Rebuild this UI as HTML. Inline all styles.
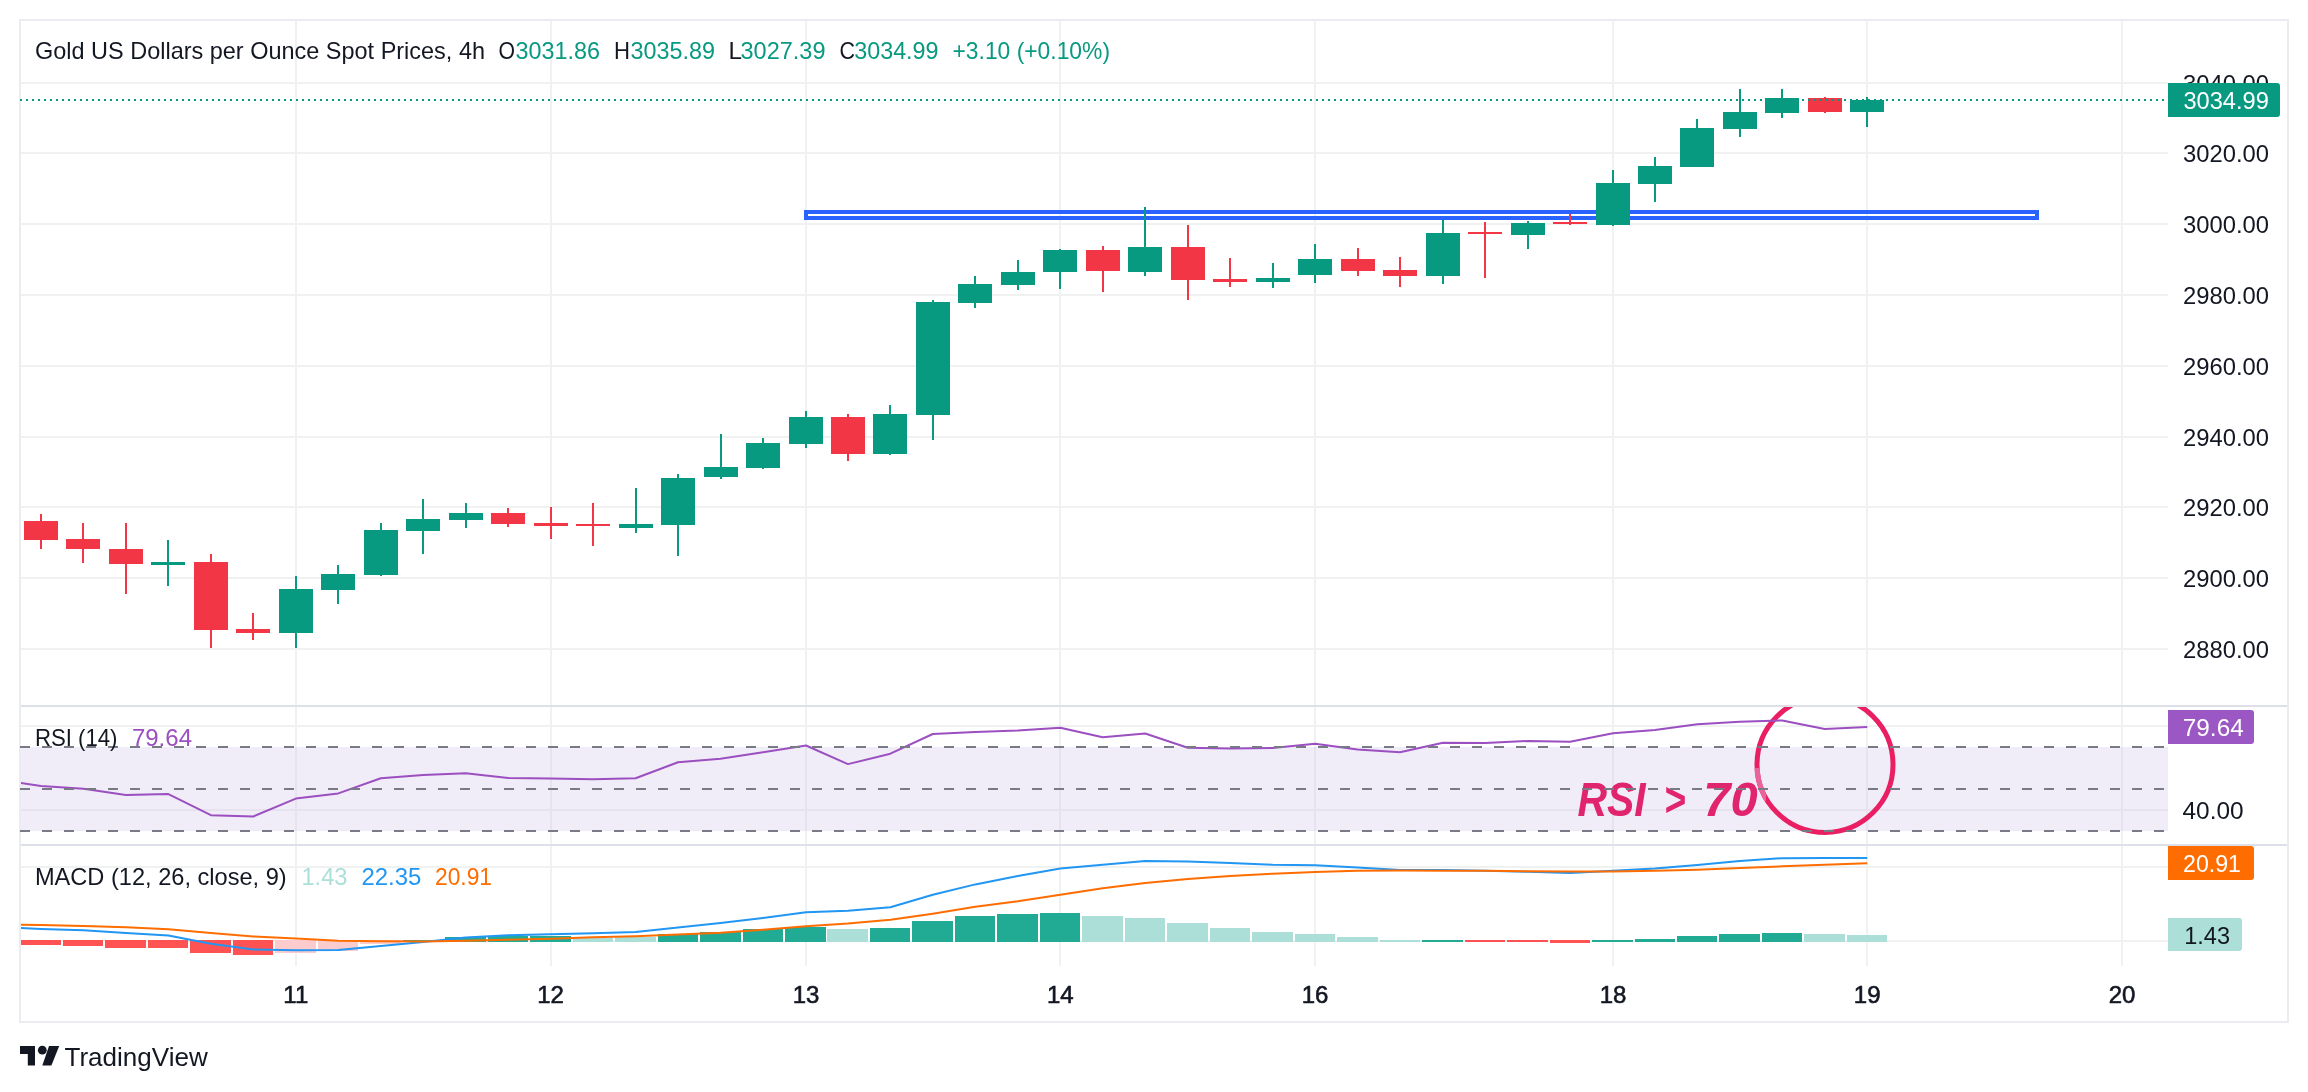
<!DOCTYPE html><html><head><meta charset="utf-8"><title>Gold 4h chart</title>
<style>html,body{margin:0;padding:0;background:#fff;width:2308px;height:1092px;overflow:hidden}svg{display:block;will-change:transform}</style></head><body>
<svg width="2308" height="1092" viewBox="0 0 2308 1092" font-family='"Liberation Sans", sans-serif'>
<rect x="0" y="0" width="2308" height="1092" fill="#ffffff"/>
<defs><clipPath id="cpMain"><rect x="21" y="21" width="2147" height="684"/></clipPath><clipPath id="cpRsi"><rect x="21" y="707" width="2147" height="137"/></clipPath><clipPath id="cpMacd"><rect x="21" y="846" width="2147" height="120"/></clipPath></defs>
<g fill="#f0f2f2" shape-rendering="crispEdges">
<rect x="21" y="82" width="2147" height="2"/>
<rect x="21" y="152" width="2147" height="2"/>
<rect x="21" y="223" width="2147" height="2"/>
<rect x="21" y="294" width="2147" height="2"/>
<rect x="21" y="365" width="2147" height="2"/>
<rect x="21" y="436" width="2147" height="2"/>
<rect x="21" y="506" width="2147" height="2"/>
<rect x="21" y="577" width="2147" height="2"/>
<rect x="21" y="648" width="2147" height="2"/>
<rect x="21" y="725" width="2147" height="2"/>
<rect x="21" y="809" width="2147" height="2"/>
<rect x="21" y="866" width="2147" height="2"/>
<rect x="21" y="940" width="2147" height="2"/>
<rect x="295" y="21" width="2" height="945"/>
<rect x="550" y="21" width="2" height="945"/>
<rect x="805" y="21" width="2" height="945"/>
<rect x="1059" y="21" width="2" height="945"/>
<rect x="1314" y="21" width="2" height="945"/>
<rect x="1612" y="21" width="2" height="945"/>
<rect x="1866" y="21" width="2" height="945"/>
<rect x="2121" y="21" width="2" height="945"/>
</g>
<rect x="21" y="747" width="2147" height="84" fill="#f0edf8"/>
<g fill="#e6e3ef" shape-rendering="crispEdges"><rect x="21" y="809" width="2147" height="2"/>
<rect x="295" y="747" width="2" height="84"/>
<rect x="550" y="747" width="2" height="84"/>
<rect x="805" y="747" width="2" height="84"/>
<rect x="1059" y="747" width="2" height="84"/>
<rect x="1314" y="747" width="2" height="84"/>
<rect x="1612" y="747" width="2" height="84"/>
<rect x="1866" y="747" width="2" height="84"/>
<rect x="2121" y="747" width="2" height="84"/>
</g>
<g fill="#dde0e8" shape-rendering="crispEdges">
<rect x="21" y="705" width="2267" height="2"/>
<rect x="21" y="844" width="2267" height="2"/>
</g>
<rect x="20" y="20" width="2268" height="1002" fill="none" stroke="#ebecf0" stroke-width="2" shape-rendering="crispEdges"/>
<rect x="806" y="212" width="1231" height="6" fill="none" stroke="#2962ff" stroke-width="4" shape-rendering="crispEdges"/>
<g clip-path="url(#cpMain)" shape-rendering="crispEdges">
<rect x="40" y="514" width="2" height="35" fill="#f23645"/>
<rect x="24" y="521" width="34" height="19" fill="#f23645"/>
<rect x="82" y="523" width="2" height="40" fill="#f23645"/>
<rect x="66" y="539" width="34" height="10" fill="#f23645"/>
<rect x="125" y="523" width="2" height="71" fill="#f23645"/>
<rect x="109" y="549" width="34" height="15" fill="#f23645"/>
<rect x="167" y="540" width="2" height="46" fill="#089981"/>
<rect x="151" y="562" width="34" height="3" fill="#089981"/>
<rect x="210" y="554" width="2" height="94" fill="#f23645"/>
<rect x="194" y="562" width="34" height="68" fill="#f23645"/>
<rect x="252" y="613" width="2" height="27" fill="#f23645"/>
<rect x="236" y="629" width="34" height="4" fill="#f23645"/>
<rect x="295" y="576" width="2" height="72" fill="#089981"/>
<rect x="279" y="589" width="34" height="44" fill="#089981"/>
<rect x="337" y="565" width="2" height="39" fill="#089981"/>
<rect x="321" y="574" width="34" height="16" fill="#089981"/>
<rect x="380" y="523" width="2" height="53" fill="#089981"/>
<rect x="364" y="530" width="34" height="45" fill="#089981"/>
<rect x="422" y="499" width="2" height="55" fill="#089981"/>
<rect x="406" y="519" width="34" height="12" fill="#089981"/>
<rect x="465" y="503" width="2" height="25" fill="#089981"/>
<rect x="449" y="513" width="34" height="7" fill="#089981"/>
<rect x="507" y="508" width="2" height="19" fill="#f23645"/>
<rect x="491" y="513" width="34" height="11" fill="#f23645"/>
<rect x="550" y="507" width="2" height="32" fill="#f23645"/>
<rect x="534" y="523" width="34" height="3" fill="#f23645"/>
<rect x="592" y="503" width="2" height="43" fill="#f23645"/>
<rect x="576" y="524" width="34" height="2" fill="#f23645"/>
<rect x="635" y="488" width="2" height="45" fill="#089981"/>
<rect x="619" y="524" width="34" height="4" fill="#089981"/>
<rect x="677" y="474" width="2" height="82" fill="#089981"/>
<rect x="661" y="478" width="34" height="47" fill="#089981"/>
<rect x="720" y="434" width="2" height="45" fill="#089981"/>
<rect x="704" y="467" width="34" height="10" fill="#089981"/>
<rect x="762" y="438" width="2" height="31" fill="#089981"/>
<rect x="746" y="443" width="34" height="25" fill="#089981"/>
<rect x="805" y="411" width="2" height="37" fill="#089981"/>
<rect x="789" y="417" width="34" height="27" fill="#089981"/>
<rect x="847" y="414" width="2" height="47" fill="#f23645"/>
<rect x="831" y="417" width="34" height="37" fill="#f23645"/>
<rect x="889" y="405" width="2" height="50" fill="#089981"/>
<rect x="873" y="414" width="34" height="40" fill="#089981"/>
<rect x="932" y="300" width="2" height="140" fill="#089981"/>
<rect x="916" y="302" width="34" height="113" fill="#089981"/>
<rect x="974" y="276" width="2" height="32" fill="#089981"/>
<rect x="958" y="284" width="34" height="19" fill="#089981"/>
<rect x="1017" y="260" width="2" height="30" fill="#089981"/>
<rect x="1001" y="272" width="34" height="13" fill="#089981"/>
<rect x="1059" y="249" width="2" height="40" fill="#089981"/>
<rect x="1043" y="250" width="34" height="22" fill="#089981"/>
<rect x="1102" y="246" width="2" height="46" fill="#f23645"/>
<rect x="1086" y="250" width="34" height="21" fill="#f23645"/>
<rect x="1144" y="207" width="2" height="69" fill="#089981"/>
<rect x="1128" y="247" width="34" height="25" fill="#089981"/>
<rect x="1187" y="225" width="2" height="75" fill="#f23645"/>
<rect x="1171" y="247" width="34" height="33" fill="#f23645"/>
<rect x="1229" y="258" width="2" height="29" fill="#f23645"/>
<rect x="1213" y="279" width="34" height="3" fill="#f23645"/>
<rect x="1272" y="263" width="2" height="25" fill="#089981"/>
<rect x="1256" y="278" width="34" height="4" fill="#089981"/>
<rect x="1314" y="244" width="2" height="39" fill="#089981"/>
<rect x="1298" y="259" width="34" height="16" fill="#089981"/>
<rect x="1357" y="248" width="2" height="28" fill="#f23645"/>
<rect x="1341" y="259" width="34" height="12" fill="#f23645"/>
<rect x="1399" y="257" width="2" height="30" fill="#f23645"/>
<rect x="1383" y="270" width="34" height="6" fill="#f23645"/>
<rect x="1442" y="220" width="2" height="64" fill="#089981"/>
<rect x="1426" y="233" width="34" height="43" fill="#089981"/>
<rect x="1484" y="222" width="2" height="56" fill="#f23645"/>
<rect x="1468" y="232" width="34" height="2" fill="#f23645"/>
<rect x="1527" y="221" width="2" height="28" fill="#089981"/>
<rect x="1511" y="223" width="34" height="12" fill="#089981"/>
<rect x="1569" y="214" width="2" height="11" fill="#f23645"/>
<rect x="1553" y="222" width="34" height="2" fill="#f23645"/>
<rect x="1612" y="170" width="2" height="56" fill="#089981"/>
<rect x="1596" y="183" width="34" height="42" fill="#089981"/>
<rect x="1654" y="157" width="2" height="45" fill="#089981"/>
<rect x="1638" y="166" width="34" height="18" fill="#089981"/>
<rect x="1696" y="119" width="2" height="48" fill="#089981"/>
<rect x="1680" y="128" width="34" height="39" fill="#089981"/>
<rect x="1739" y="89" width="2" height="48" fill="#089981"/>
<rect x="1723" y="112" width="34" height="17" fill="#089981"/>
<rect x="1781" y="89" width="2" height="29" fill="#089981"/>
<rect x="1765" y="98" width="34" height="15" fill="#089981"/>
<rect x="1824" y="97" width="2" height="16" fill="#f23645"/>
<rect x="1808" y="98" width="34" height="14" fill="#f23645"/>
<rect x="1866" y="97" width="2" height="30" fill="#089981"/>
<rect x="1850" y="100" width="34" height="12" fill="#089981"/>
</g>
<line x1="20" y1="100" x2="2168" y2="100" stroke="#089981" stroke-width="2" stroke-dasharray="2 4" shape-rendering="crispEdges"/>
<g clip-path="url(#cpMacd)" shape-rendering="crispEdges">
<rect x="20" y="940" width="41" height="5" fill="#ff5252"/>
<rect x="63" y="940" width="40" height="6" fill="#ff5252"/>
<rect x="105" y="940" width="41" height="8" fill="#ff5252"/>
<rect x="148" y="940" width="40" height="8" fill="#ff5252"/>
<rect x="190" y="940" width="41" height="13" fill="#ff5252"/>
<rect x="233" y="940" width="40" height="15" fill="#ff5252"/>
<rect x="275" y="940" width="41" height="13" fill="#fccbcd"/>
<rect x="318" y="940" width="40" height="11" fill="#fccbcd"/>
<rect x="360" y="940" width="41" height="4" fill="#fccbcd"/>
<rect x="403" y="940" width="40" height="2" fill="#22ab94"/>
<rect x="445" y="937" width="41" height="5" fill="#22ab94"/>
<rect x="488" y="936" width="40" height="6" fill="#22ab94"/>
<rect x="530" y="936" width="41" height="6" fill="#22ab94"/>
<rect x="573" y="938" width="40" height="4" fill="#acdfd8"/>
<rect x="615" y="937" width="41" height="5" fill="#acdfd8"/>
<rect x="658" y="934" width="40" height="8" fill="#22ab94"/>
<rect x="700" y="932" width="41" height="10" fill="#22ab94"/>
<rect x="743" y="929" width="40" height="13" fill="#22ab94"/>
<rect x="785" y="927" width="41" height="15" fill="#22ab94"/>
<rect x="827" y="929" width="41" height="13" fill="#acdfd8"/>
<rect x="870" y="928" width="40" height="14" fill="#22ab94"/>
<rect x="912" y="921" width="41" height="21" fill="#22ab94"/>
<rect x="955" y="916" width="40" height="26" fill="#22ab94"/>
<rect x="997" y="914" width="41" height="28" fill="#22ab94"/>
<rect x="1040" y="913" width="40" height="29" fill="#22ab94"/>
<rect x="1082" y="916" width="41" height="26" fill="#acdfd8"/>
<rect x="1125" y="918" width="40" height="24" fill="#acdfd8"/>
<rect x="1167" y="923" width="41" height="19" fill="#acdfd8"/>
<rect x="1210" y="928" width="40" height="14" fill="#acdfd8"/>
<rect x="1252" y="932" width="41" height="10" fill="#acdfd8"/>
<rect x="1295" y="934" width="40" height="8" fill="#acdfd8"/>
<rect x="1337" y="937" width="41" height="5" fill="#acdfd8"/>
<rect x="1380" y="940" width="40" height="2" fill="#acdfd8"/>
<rect x="1422" y="940" width="41" height="2" fill="#22ab94"/>
<rect x="1465" y="940" width="40" height="2" fill="#ff5252"/>
<rect x="1507" y="940" width="41" height="2" fill="#ff5252"/>
<rect x="1550" y="940" width="40" height="3" fill="#ff5252"/>
<rect x="1592" y="940" width="41" height="2" fill="#22ab94"/>
<rect x="1635" y="939" width="40" height="3" fill="#22ab94"/>
<rect x="1677" y="936" width="40" height="6" fill="#22ab94"/>
<rect x="1719" y="934" width="41" height="8" fill="#22ab94"/>
<rect x="1762" y="933" width="40" height="9" fill="#22ab94"/>
<rect x="1804" y="934" width="41" height="8" fill="#acdfd8"/>
<rect x="1847" y="935" width="40" height="7" fill="#acdfd8"/>
</g>
<polyline clip-path="url(#cpMacd)" points="20,928.0 41.0,928.9 83.5,930.2 125.9,933.1 168.4,935.4 210.9,943.7 253.3,949.4 295.8,950.3 338.3,950.1 380.8,945.9 423.2,942.0 465.7,937.4 508.2,935.2 550.6,934.2 593.1,933.3 635.6,932.0 678.0,927.5 720.5,922.9 763.0,918.1 806.0,912.3 847.9,910.8 890.4,907.2 932.8,894.8 975.3,884.4 1017.8,876.0 1060.3,868.5 1102.7,864.7 1145.2,861.0 1187.7,861.4 1230.1,863.0 1272.6,864.7 1315.1,865.3 1357.5,867.5 1400.0,870.1 1443.0,870.1 1485.1,870.8 1528.0,871.8 1570.1,873.0 1613.0,870.8 1655.0,868.5 1697.3,865.0 1739.8,861.1 1782.2,858.2 1824.7,858.0 1867.2,858.0" fill="none" stroke="#2196f3" stroke-width="2" stroke-linejoin="round"/>
<polyline clip-path="url(#cpMacd)" points="20,924.7 41.0,925.1 83.5,926.0 125.9,927.3 168.4,929.2 210.9,933.1 253.3,936.4 295.8,938.6 338.3,940.7 380.8,941.3 423.2,941.6 465.7,940.7 508.2,939.8 550.6,938.7 593.1,937.2 635.6,936.3 678.0,934.6 720.5,932.7 763.0,929.8 806.0,926.2 847.9,923.5 890.4,919.8 932.8,913.7 975.3,906.8 1017.8,901.3 1060.3,894.8 1102.7,888.3 1145.2,883.1 1187.7,878.9 1230.1,876.0 1272.6,873.7 1315.1,872.1 1357.5,870.8 1400.0,870.5 1443.0,870.8 1485.1,870.8 1528.0,871.2 1570.1,871.4 1613.0,871.4 1655.0,870.8 1697.3,869.7 1739.8,867.9 1782.2,866.3 1824.7,864.8 1867.2,863.2" fill="none" stroke="#ff6d00" stroke-width="2" stroke-linejoin="round"/>
<g clip-path="url(#cpRsi)"><circle cx="1825" cy="764.5" r="68" fill="none" stroke="#e91e63" stroke-width="5"/></g>
<defs><clipPath id="cpLight"><rect x="1750" y="768" width="16" height="33"/></clipPath></defs>
<g clip-path="url(#cpLight)"><circle cx="1825" cy="764.5" r="68" fill="none" stroke="#e8649a" stroke-width="5"/></g>
<text x="1577.4" y="816" font-size="48" fill="#e0246d" font-weight="bold" font-style="italic" textLength="68.2" lengthAdjust="spacingAndGlyphs">RSI</text>
<text x="1664.0" y="816" font-size="48" fill="#e0246d" font-weight="bold" font-style="italic" textLength="21.6" lengthAdjust="spacingAndGlyphs">&gt;</text>
<text x="1703.2" y="816" font-size="48" fill="#e0246d" font-weight="bold" font-style="italic" textLength="54.4" lengthAdjust="spacingAndGlyphs">70</text>
<polyline clip-path="url(#cpRsi)" points="20,782.8 41.0,785.9 83.5,788.8 125.9,795.0 168.4,794.1 210.9,815.2 253.3,816.5 295.8,798.6 338.3,793.4 380.8,778.3 423.2,775.0 465.7,773.3 508.2,777.9 550.6,778.6 593.1,779.2 635.6,778.3 678.0,762.2 720.5,758.8 763.0,752.2 806.0,745.5 847.9,764.1 890.4,753.7 932.8,734.0 975.3,732.0 1017.8,730.6 1060.3,727.7 1102.7,737.3 1145.2,733.5 1187.7,747.7 1230.1,748.4 1272.6,747.9 1315.1,743.7 1357.5,749.5 1400.0,752.2 1443.0,742.8 1485.1,743.1 1528.0,741.0 1570.1,741.7 1613.0,733.2 1655.0,730.1 1697.3,724.3 1739.8,721.8 1782.2,720.4 1824.7,729.0 1867.2,727.0" fill="none" stroke="#9b4fc0" stroke-width="2" stroke-linejoin="round"/>
<g stroke="#787b86" stroke-width="2" stroke-dasharray="10 12" shape-rendering="crispEdges">
<line x1="20" y1="747" x2="2168" y2="747"/>
<line x1="20" y1="789" x2="2168" y2="789"/>
<line x1="20" y1="831" x2="2168" y2="831"/>
</g>
<text x="35.0" y="58.8" font-size="24" fill="#131722" font-weight="normal" font-style="normal" textLength="450.0" lengthAdjust="spacingAndGlyphs">Gold US Dollars per Ounce Spot Prices, 4h</text>
<text x="498.5" y="58.8" font-size="24" fill="#131722" font-weight="normal" font-style="normal" textLength="16.5" lengthAdjust="spacingAndGlyphs">O</text>
<text x="515.5" y="58.8" font-size="24" fill="#089981" font-weight="normal" font-style="normal" textLength="84.5" lengthAdjust="spacingAndGlyphs">3031.86</text>
<text x="614.0" y="58.8" font-size="24" fill="#131722" font-weight="normal" font-style="normal" textLength="16.0" lengthAdjust="spacingAndGlyphs">H</text>
<text x="630.5" y="58.8" font-size="24" fill="#089981" font-weight="normal" font-style="normal" textLength="84.5" lengthAdjust="spacingAndGlyphs">3035.89</text>
<text x="728.5" y="58.8" font-size="24" fill="#131722" font-weight="normal" font-style="normal" textLength="13.5" lengthAdjust="spacingAndGlyphs">L</text>
<text x="740.5" y="58.8" font-size="24" fill="#089981" font-weight="normal" font-style="normal" textLength="85.0" lengthAdjust="spacingAndGlyphs">3027.39</text>
<text x="839.5" y="58.8" font-size="24" fill="#131722" font-weight="normal" font-style="normal" textLength="15.5" lengthAdjust="spacingAndGlyphs">C</text>
<text x="854.2" y="58.8" font-size="24" fill="#089981" font-weight="normal" font-style="normal" textLength="84.4" lengthAdjust="spacingAndGlyphs">3034.99</text>
<text x="952.5" y="58.8" font-size="24" fill="#089981" font-weight="normal" font-style="normal" textLength="157.5" lengthAdjust="spacingAndGlyphs">+3.10 (+0.10%)</text>
<text x="34.9" y="745.5" font-size="24" fill="#131722" font-weight="normal" font-style="normal" textLength="82.6" lengthAdjust="spacingAndGlyphs">RSI (14)</text>
<text x="131.9" y="745.5" font-size="24" fill="#9b4fc0" font-weight="normal" font-style="normal" textLength="60.1" lengthAdjust="spacingAndGlyphs">79.64</text>
<text x="34.9" y="884.8" font-size="24" fill="#131722" font-weight="normal" font-style="normal" textLength="251.8" lengthAdjust="spacingAndGlyphs">MACD (12, 26, close, 9)</text>
<text x="301.4" y="884.8" font-size="24" fill="#acdfd8" font-weight="normal" font-style="normal" textLength="46.1" lengthAdjust="spacingAndGlyphs">1.43</text>
<text x="361.5" y="884.8" font-size="24" fill="#2196f3" font-weight="normal" font-style="normal" textLength="59.9" lengthAdjust="spacingAndGlyphs">22.35</text>
<text x="435.0" y="884.8" font-size="24" fill="#ff6d00" font-weight="normal" font-style="normal" textLength="57.0" lengthAdjust="spacingAndGlyphs">20.91</text>
<text x="2183.0" y="92.0" font-size="24" fill="#131722" font-weight="normal" font-style="normal" textLength="86.0" lengthAdjust="spacingAndGlyphs">3040.00</text>
<text x="2183.0" y="162.0" font-size="24" fill="#131722" font-weight="normal" font-style="normal" textLength="86.0" lengthAdjust="spacingAndGlyphs">3020.00</text>
<text x="2183.0" y="233.0" font-size="24" fill="#131722" font-weight="normal" font-style="normal" textLength="86.0" lengthAdjust="spacingAndGlyphs">3000.00</text>
<text x="2183.0" y="304.0" font-size="24" fill="#131722" font-weight="normal" font-style="normal" textLength="86.0" lengthAdjust="spacingAndGlyphs">2980.00</text>
<text x="2183.0" y="375.0" font-size="24" fill="#131722" font-weight="normal" font-style="normal" textLength="86.0" lengthAdjust="spacingAndGlyphs">2960.00</text>
<text x="2183.0" y="446.0" font-size="24" fill="#131722" font-weight="normal" font-style="normal" textLength="86.0" lengthAdjust="spacingAndGlyphs">2940.00</text>
<text x="2183.0" y="516.0" font-size="24" fill="#131722" font-weight="normal" font-style="normal" textLength="86.0" lengthAdjust="spacingAndGlyphs">2920.00</text>
<text x="2183.0" y="587.0" font-size="24" fill="#131722" font-weight="normal" font-style="normal" textLength="86.0" lengthAdjust="spacingAndGlyphs">2900.00</text>
<text x="2183.0" y="658.0" font-size="24" fill="#131722" font-weight="normal" font-style="normal" textLength="86.0" lengthAdjust="spacingAndGlyphs">2880.00</text>
<rect x="2168" y="83" width="112" height="34" rx="3" fill="#089981"/>
<rect x="2168" y="83" width="10" height="34" fill="#089981"/>
<text x="2183.5" y="108.9" font-size="24" fill="#ffffff" font-weight="normal" font-style="normal" textLength="85.3" lengthAdjust="spacingAndGlyphs">3034.99</text>
<rect x="2168" y="710" width="86" height="34" rx="3" fill="#9b57c3"/>
<rect x="2168" y="710" width="10" height="34" fill="#9b57c3"/>
<text x="2182.8" y="736.0" font-size="24" fill="#ffffff" font-weight="normal" font-style="normal" textLength="60.9" lengthAdjust="spacingAndGlyphs">79.64</text>
<text x="2182.5" y="818.8" font-size="24" fill="#131722" font-weight="normal" font-style="normal" textLength="61.2" lengthAdjust="spacingAndGlyphs">40.00</text>
<rect x="2168" y="846" width="86" height="34" rx="3" fill="#ff6d00"/>
<rect x="2168" y="846" width="10" height="34" fill="#ff6d00"/>
<text x="2183.0" y="871.8" font-size="24" fill="#ffffff" font-weight="normal" font-style="normal" textLength="58.0" lengthAdjust="spacingAndGlyphs">20.91</text>
<rect x="2168" y="918" width="74" height="33" rx="3" fill="#acdfd8"/>
<rect x="2168" y="918" width="10" height="33" fill="#acdfd8"/>
<text x="2184.2" y="943.5" font-size="24" fill="#131722" font-weight="normal" font-style="normal" textLength="45.8" lengthAdjust="spacingAndGlyphs">1.43</text>
<text x="295.8" y="1003" font-size="24" fill="#131722" stroke="#131722" stroke-width="0.6" text-anchor="middle">11</text>
<text x="550.6" y="1003" font-size="24" fill="#131722" stroke="#131722" stroke-width="0.6" text-anchor="middle">12</text>
<text x="806.0" y="1003" font-size="24" fill="#131722" stroke="#131722" stroke-width="0.6" text-anchor="middle">13</text>
<text x="1060.3" y="1003" font-size="24" fill="#131722" stroke="#131722" stroke-width="0.6" text-anchor="middle">14</text>
<text x="1315.1" y="1003" font-size="24" fill="#131722" stroke="#131722" stroke-width="0.6" text-anchor="middle">16</text>
<text x="1613.0" y="1003" font-size="24" fill="#131722" stroke="#131722" stroke-width="0.6" text-anchor="middle">18</text>
<text x="1867.2" y="1003" font-size="24" fill="#131722" stroke="#131722" stroke-width="0.6" text-anchor="middle">19</text>
<text x="2122.0" y="1003" font-size="24" fill="#131722" stroke="#131722" stroke-width="0.6" text-anchor="middle">20</text>
<g fill="#131722">
<path d="M20 1046 H35 V1065.5 H27.8 V1054 H20 Z"/>
<circle cx="42.3" cy="1050.2" r="4.4"/>
<path d="M49 1046 H59.2 L51.4 1065.5 H42.3 Z"/>
</g>
<text x="64.5" y="1066.0" font-size="26" fill="#131722" font-weight="normal" font-style="normal" textLength="143.2" lengthAdjust="spacingAndGlyphs">TradingView</text>
</svg></body></html>
